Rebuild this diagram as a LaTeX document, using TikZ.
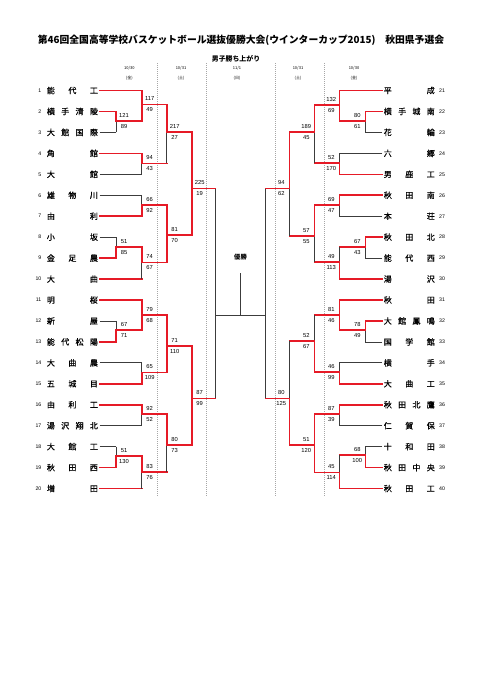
\documentclass[tikz,border=0pt]{standalone}
\usepackage{fontspec}
\setmainfont{Noto Sans CJK JP}
\newfontfamily\namefont[FakeBold=0.6]{Noto Sans CJK JP}
\newfontfamily\numfont{Liberation Sans}
\usetikzlibrary{calc}

\definecolor{winred}{RGB}{230,26,38}
\definecolor{linegray}{RGB}{60,60,60}

% one leg of a bracket: horizontal from #1, then vertical to #2
\newcommand{\leg}[4]{%
  \draw[#3] (#1) -- (#1 -| #2);
  \draw[#4] (#1 -| #2) -- (#2);}
% scores beside a joint (left half / right half)
\newcommand{\scoreL}[3]{%
  \path (#1) ++(8,-5.5) node[score] (#1u) {#2} ++(0,11) node[score] (#1d) {#3};}
\newcommand{\scoreR}[3]{%
  \path (#1) ++(-8,-5.5) node[score] (#1u) {#2} ++(0,11) node[score] (#1d) {#3};}

\begin{document}
\begin{tikzpicture}[
  x=1pt, y=-1pt,
  won/.style={draw=winred, line width=1.6pt, line cap=rect},
  lost/.style={draw=linegray, line width=0.75pt},
  score/.style={font=\numfont\fontsize{5.8}{6}\selectfont, inner sep=0pt},
  tname/.style={font=\namefont\fontsize{8}{9}\selectfont, inner xsep=1.5pt, inner ysep=0pt},
  tnum/.style={font=\numfont\fontsize{5.2}{6}\selectfont, inner sep=0pt},
  datel/.style={font=\fontsize{4}{5}\selectfont, inner sep=0pt},
  daysep/.style={draw=gray!70, line width=0.45pt, dash pattern=on 1pt off 1pt}
]
\useasboundingbox[fill=white] (0,0) rectangle (481,680);

% --- Heading ---
\node[font=\bfseries\fontsize{9.8}{11}\selectfont] (title) at (241,40)
  {第46回全国高等学校バスケットボール選抜優勝大会(ウインターカップ2015)　秋田県予選会};
\node[font=\bfseries\fontsize{6.9}{8}\selectfont] (sub) at (236,58.5) {男子勝ち上がり};

% --- Days ---
\node[datel] (d1) at (129.3,68.3) {10/30};
\node[datel] (w1) at (129.3,78.3) {(金)};
\node[datel] (d2) at (181,68.3) {10/31};
\node[datel] (w2) at (181,78.3) {(土)};
\node[datel] (d3) at (237,68.3) {11/1};
\node[datel] (w3) at (237,78.3) {(日)};
\node[datel] (d4) at (298,68.3) {10/31};
\node[datel] (w4) at (298,78.3) {(土)};
\node[datel] (d5) at (354,68.3) {10/30};
\node[datel] (w5) at (354,78.3) {(金)};
\draw[daysep] (157.5,63) -- (157.5,497);
\draw[daysep] (206,63) -- (206,497);
\draw[daysep] (275.5,63) -- (275.5,497);
\draw[daysep] (324,63) -- (324,497);

% --- Teams ---
\foreach \i/\nm in {1/{能\hfill 代\hfill 工}, 2/{横\hfill 手\hfill 清\hfill 陵}, 3/{大\hfill 館\hfill 国\hfill 際},
  4/{角\hfill 館}, 5/{大\hfill 館}, 6/{雄\hfill 物\hfill 川}, 7/{由\hfill 利}, 8/{小\hfill 坂},
  9/{金\hfill 足\hfill 農}, 10/{大\hfill 曲}, 11/{明\hfill 桜}, 12/{新\hfill 屋},
  13/{能\hfill 代\hfill 松\hfill 陽}, 14/{大\hfill 曲\hfill 農}, 15/{五\hfill 城\hfill 目},
  16/{由\hfill 利\hfill 工}, 17/{湯\hfill 沢\hfill 翔\hfill 北}, 18/{大\hfill 館\hfill 工},
  19/{秋\hfill 田\hfill 西}, 20/{増\hfill 田}} {
  \node[tname, anchor=west] (t\i) at (45.2,{90.5+20.95*(\i-1)}) {\makebox[51pt]{\nm}};
  \node[tnum, anchor=east] (num\i) at (41.5,{90.5+20.95*(\i-1)}) {\i};
}
\foreach \i/\nm in {21/{平\hfill 成}, 22/{横\hfill 手\hfill 城\hfill 南}, 23/{花\hfill 輪},
  24/{六\hfill 郷}, 25/{男\hfill 鹿\hfill 工}, 26/{秋\hfill 田\hfill 南}, 27/{本\hfill 荘},
  28/{秋\hfill 田\hfill 北}, 29/{能\hfill 代\hfill 西}, 30/{湯\hfill 沢}, 31/{秋\hfill 田},
  32/{大\hfill 館\hfill 鳳\hfill 鳴}, 33/{国\hfill 学\hfill 館}, 34/{横\hfill 手},
  35/{大\hfill 曲\hfill 工}, 36/{秋\hfill 田\hfill 北\hfill 鷹}, 37/{仁\hfill 賀\hfill 保},
  38/{十\hfill 和\hfill 田}, 39/{秋\hfill 田\hfill 中\hfill 央}, 40/{秋\hfill 田\hfill 工}} {
  \node[tname, anchor=east] (t\i) at (436.5,{90.5+20.95*(\i-21)}) {\makebox[51pt]{\nm}};
  \node[tnum, anchor=west] (num\i) at (439,{90.5+20.95*(\i-21)}) {\i};
}

% --- Joints, left half ---
\coordinate (m23) at (116,121);
\coordinate (m89) at (116,246.7);
\coordinate (m1213) at (116,330);
\coordinate (m1819) at (116,455.7);
\coordinate (q1) at (141.7,104.5);
\coordinate (q2) at (141.7,163.3);
\coordinate (q3) at (141.7,205);
\coordinate (q4) at (141.7,262.3);
\coordinate (q5) at (141.7,315);
\coordinate (q6) at (141.7,372.3);
\coordinate (q7) at (141.7,414);
\coordinate (q8) at (141.7,471.7);
\coordinate (s1) at (166.7,132);
\coordinate (s2) at (166.7,235);
\coordinate (s3) at (166.7,345.7);
\coordinate (s4) at (166.7,445);
\coordinate (f1) at (191.7,188.5);
\coordinate (f2) at (191.7,398.3);

% --- Joints, right half ---
\coordinate (n2223) at (365.3,121);
\coordinate (n2829) at (365.3,246.7);
\coordinate (n3233) at (365.3,330);
\coordinate (n3839) at (365.3,455);
\coordinate (r1) at (339.3,105);
\coordinate (r2) at (339.3,162.7);
\coordinate (r3) at (339.3,205);
\coordinate (r4) at (339.3,261.7);
\coordinate (r5) at (339.3,315);
\coordinate (r6) at (339.3,371.7);
\coordinate (r7) at (339.3,414);
\coordinate (r8) at (339.3,472.3);
\coordinate (u1) at (314.3,131.7);
\coordinate (u2) at (314.3,236);
\coordinate (u3) at (314.3,340.7);
\coordinate (u4) at (314.3,445);
\coordinate (g1) at (289.3,188.5);
\coordinate (g2) at (289.3,398.3);

% --- Final ---
\coordinate (fl) at (215.5,315);
\coordinate (fr) at (265.5,315);
\coordinate (fc) at (240.5,315);
\coordinate (ftop) at (240.5,273);
\node[font=\bfseries\fontsize{6.3}{7}\selectfont] (champ) at (240.5,257.3) {優勝};

% --- Left: round 1 ---
\leg{t2.east}{m23}{won}{won}
\leg{t3.east}{m23}{lost}{lost}
\scoreL{m23}{121}{89}
\leg{t8.east}{m89}{lost}{lost}
\leg{t9.east}{m89}{won}{won}
\scoreL{m89}{51}{85}
\leg{t12.east}{m1213}{lost}{lost}
\leg{t13.east}{m1213}{won}{won}
\scoreL{m1213}{67}{71}
\leg{t18.east}{m1819}{lost}{lost}
\leg{t19.east}{m1819}{won}{won}
\scoreL{m1819}{51}{130}

% --- Left: round 2 ---
\leg{t1.east}{q1}{won}{won}
\leg{m23}{q1}{won}{won}
\scoreL{q1}{117}{49}
\leg{t5.east}{q2}{lost}{lost}
\leg{t4.east}{q2}{won}{won}
\scoreL{q2}{94}{43}
\leg{t6.east}{q3}{lost}{lost}
\leg{t7.east}{q3}{won}{won}
\scoreL{q3}{66}{92}
\leg{t10.east}{q4}{won}{lost}
\leg{m89}{q4}{won}{won}
\scoreL{q4}{74}{67}
\leg{t11.east}{q5}{won}{won}
\leg{m1213}{q5}{won}{won}
\scoreL{q5}{79}{68}
\leg{t14.east}{q6}{lost}{lost}
\leg{t15.east}{q6}{won}{won}
\scoreL{q6}{65}{109}
\leg{t17.east}{q7}{lost}{lost}
\leg{t16.east}{q7}{won}{won}
\scoreL{q7}{92}{52}
\leg{t20.east}{q8}{won}{lost}
\leg{m1819}{q8}{won}{won}
\scoreL{q8}{83}{76}

% --- Left: rounds 3 and 4 ---
\leg{q2}{s1}{won}{lost}
\leg{q1}{s1}{won}{won}
\scoreL{s1}{217}{27}
\leg{q3}{s2}{won}{won}
\leg{q4}{s2}{won}{won}
\scoreL{s2}{81}{70}
\leg{q5}{s3}{won}{won}
\leg{q6}{s3}{won}{won}
\scoreL{s3}{71}{110}
\leg{q8}{s4}{won}{lost}
\leg{q7}{s4}{won}{won}
\scoreL{s4}{80}{73}
\leg{s1}{f1}{won}{won}
\leg{s2}{f1}{won}{won}
\scoreL{f1}{225}{19}
\leg{s3}{f2}{won}{won}
\leg{s4}{f2}{won}{won}
\scoreL{f2}{87}{99}

% --- Right: round 1 ---
\leg{t23.west}{n2223}{lost}{lost}
\leg{t22.west}{n2223}{won}{won}
\scoreR{n2223}{80}{61}
\leg{t29.west}{n2829}{lost}{lost}
\leg{t28.west}{n2829}{won}{won}
\scoreR{n2829}{67}{43}
\leg{t33.west}{n3233}{lost}{lost}
\leg{t32.west}{n3233}{won}{won}
\scoreR{n3233}{78}{49}
\leg{t38.west}{n3839}{lost}{lost}
\leg{t39.west}{n3839}{won}{won}
\scoreR{n3839}{68}{100}

% --- Right: round 2 ---
\leg{t21.west}{r1}{won}{won}
\leg{n2223}{r1}{won}{won}
\scoreR{r1}{132}{69}
\leg{t24.west}{r2}{lost}{lost}
\leg{t25.west}{r2}{won}{won}
\scoreR{r2}{52}{170}
\leg{t27.west}{r3}{lost}{lost}
\leg{t26.west}{r3}{won}{won}
\scoreR{r3}{69}{47}
\leg{n2829}{r4}{won}{lost}
\leg{t30.west}{r4}{won}{won}
\scoreR{r4}{49}{113}
\leg{t31.west}{r5}{won}{won}
\leg{n3233}{r5}{won}{won}
\scoreR{r5}{81}{46}
\leg{t34.west}{r6}{lost}{lost}
\leg{t35.west}{r6}{won}{won}
\scoreR{r6}{46}{99}
\leg{t37.west}{r7}{lost}{lost}
\leg{t36.west}{r7}{won}{won}
\scoreR{r7}{87}{39}
\leg{n3839}{r8}{won}{lost}
\leg{t40.west}{r8}{won}{won}
\scoreR{r8}{45}{114}

% --- Right: rounds 3 and 4 ---
\leg{r2}{u1}{won}{lost}
\leg{r1}{u1}{won}{won}
\scoreR{u1}{189}{45}
\leg{r4}{u2}{won}{lost}
\leg{r3}{u2}{won}{won}
\scoreR{u2}{57}{55}
\leg{r5}{u3}{won}{lost}
\leg{r6}{u3}{won}{won}
\scoreR{u3}{52}{67}
\leg{r7}{u4}{won}{won}
\leg{r8}{u4}{won}{won}
\scoreR{u4}{51}{120}
\leg{u2}{g1}{won}{lost}
\leg{u1}{g1}{won}{won}
\scoreR{g1}{94}{62}
\leg{u3}{g2}{won}{lost}
\leg{u4}{g2}{won}{won}
\scoreR{g2}{80}{125}

% --- Final ---
\leg{f1}{fl}{won}{lost}
\leg{f2}{fl}{won}{lost}
\leg{g1}{fr}{won}{lost}
\leg{g2}{fr}{won}{lost}
\draw[lost] (fl) -- (fr);
\draw[lost] (ftop) -- (fc);

\end{tikzpicture}
\end{document}
